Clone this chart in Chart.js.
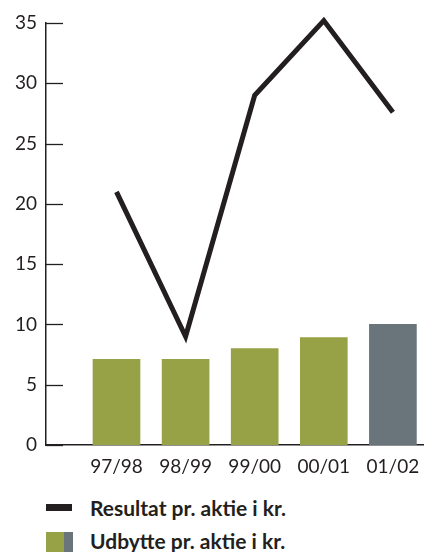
<!DOCTYPE html>
<html lang="da">
<head>
<meta charset="UTF-8">
<title>Resultat og udbytte</title>
<script src="https://cdn.jsdelivr.net/npm/chart.js@4.4.0/dist/chart.umd.min.js"></script>
<style>
    body { margin: 0; background: #fff; font-family: Lato, "Open Sans", sans-serif; }
    .wrap { position: relative; width: 424px; height: 552px; overflow: hidden; }
    canvas { position: absolute; left: 0; top: 0; }
    .leg { position: absolute; left: 90px; font-weight: bold; font-size: 21px; color: #231f20; line-height: 22px; }
    .sym { position: absolute; left: 46px; }
</style>
</head>
<body>
<div class="wrap">
    <canvas id="chart" width="424" height="480"></canvas>
    <div class="sym" style="top:504px;width:26px;height:7px;background:#231f20"></div>
    <div class="leg" style="top:497px">Resultat pr. aktie i kr.</div>
    <div class="sym" style="top:532px;width:18px;height:22px;background:#97a146"></div>
    <div class="sym" style="top:532px;left:64px;width:9px;height:22px;background:#69757b"></div>
    <div class="leg" style="top:530px">Udbytte pr. aktie i kr.</div>
</div>
<script>
const years = ['97/98', '98/99', '99/00', '00/01', '01/02'];
const resultat = [21.0, 9.0, 29.0, 35.2, 27.6];
const udbytte = [7.1, 7.1, 8.0, 8.9, 10.0];
const barColors = ['#97a146', '#97a146', '#97a146', '#97a146', '#69757b'];
const yTicks = [0, 5, 10, 15, 20, 25, 30, 35];

const ink = '#231f20';

// short tick marks pointing into the plot from the y axis
const innerTicks = {
    id: 'innerTicks',
    afterDatasetsDraw(chart) {
        const y = chart.scales.y;
        const ctx = chart.ctx;
        ctx.save();
        ctx.strokeStyle = ink;
        ctx.lineWidth = 1.3;
        yTicks.forEach(v => {
            const py = Math.round(y.getPixelForValue(v)) + 0.5;
            ctx.beginPath();
            ctx.moveTo(y.right, py);
            ctx.lineTo(y.right + 17, py);
            ctx.stroke();
        });
        ctx.restore();
    }
};

new Chart(document.getElementById('chart'), {
    data: {
        datasets: [
            {
                type: 'line',
                data: resultat.map((v, i) => ({ x: i + 1, y: v })),
                borderColor: ink,
                borderWidth: 5,
                borderJoinStyle: 'miter',
                borderCapStyle: 'butt',
                pointRadius: 0,
                tension: 0,
                clip: false,
                order: 0
            },
            {
                type: 'bar',
                data: udbytte.map((v, i) => ({ x: i + 1, y: v })),
                backgroundColor: barColors,
                barThickness: 47,
                order: 1
            }
        ]
    },
    plugins: [innerTicks],
    options: {
        responsive: false,
        animation: false,
        events: [],
        layout: { padding: { top: 23, right: 0, left: 0, bottom: 0 } },
        plugins: { legend: { display: false }, tooltip: { enabled: false } },
        scales: {
            x: {
                type: 'linear',
                offset: false,
                min: -0.02,
                max: 5.45,
                afterBuildTicks: s => { s.ticks = years.map((c, i) => ({ value: i + 1 })); },
                afterFit: s => { s.height = 35; s.paddingLeft = 0; s.paddingRight = 0; },
                grid: { display: false, drawTicks: false, offset: false },
                border: { color: ink, width: 1.5 },
                ticks: {
                    callback: v => years[v - 1],
                    color: ink,
                    padding: 10,
                    maxRotation: 0,
                    font: { family: 'Lato', size: 19 }
                }
            },
            y: {
                min: 0,
                max: 35,
                afterBuildTicks: s => { s.ticks = yTicks.map(v => ({ value: v })); },
                afterFit: s => { s.width = 46; },
                grid: { display: false, drawTicks: false },
                border: { color: ink, width: 1.5 },
                ticks: {
                    color: ink,
                    padding: 9,
                    font: { family: 'Lato', size: 19 }
                }
            }
        }
    }
});
</script>
</body>
</html>
